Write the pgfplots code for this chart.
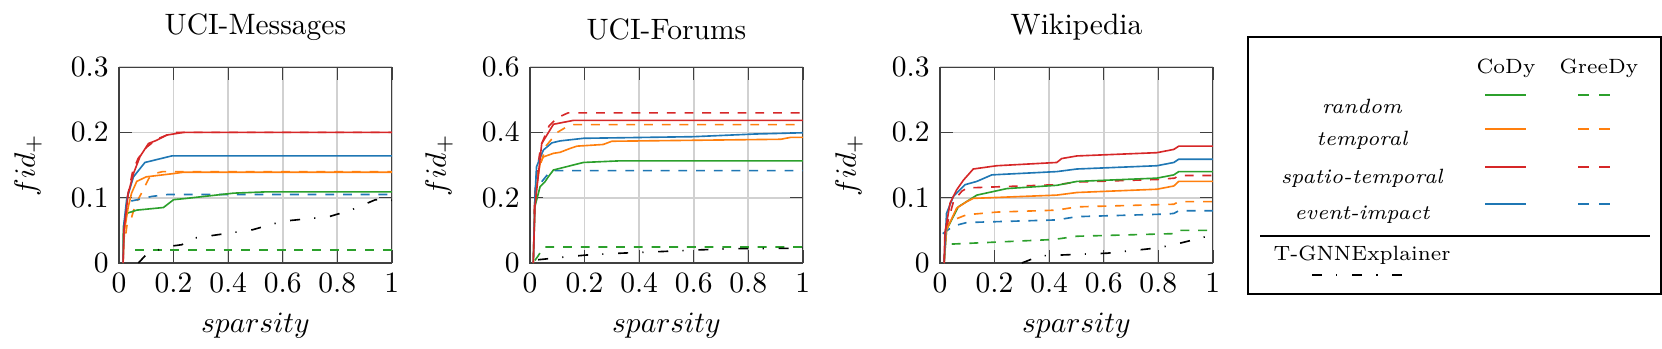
\documentclass[border=0pt]{standalone}
\usepackage{pgfplots}
\pgfplotsset{compat=1.18}
\definecolor{cgreen}{HTML}{2CA02C}
\definecolor{corange}{HTML}{FF7F0E}
\definecolor{cred}{HTML}{D62728}
\definecolor{cblue}{HTML}{1F77B4}
\tikzset{ddot/.style={dash pattern=on 3.4pt off 4.8pt on 0.4pt off 5pt}}
\pgfplotsset{myax/.style={scale only axis, width=92.5pt, height=66.4pt,
  xmin=0, xmax=1, ymin=0, grid=major, grid style={black!18, line width=0.6pt},
  axis line style={black!75}, tick style={black!75},
  xtick={0,0.2,0.4,0.6,0.8,1}, xlabel={$sparsity$}, ylabel={$fid_+$},
  ylabel shift=3pt, title style={yshift=-0.5pt},
  every axis plot/.append style={line width=0.55pt}}}
\begin{document}
\begin{tikzpicture}[x=0.339pt,y=0.339pt]
\useasboundingbox (0,0) rectangle (1662,349);
% ---------------- UCI-Messages
\begin{axis}[myax, at={(40.34pt,29.15pt)}, anchor=south west, ymax=0.3,
  ytick={0,0.1,0.2,0.3}, title={UCI-Messages}]
\addplot[cgreen, dashed] coordinates {(0.059,0.0203) (1,0.0203)};
\addplot[corange, dashed] coordinates {(0.025,0.045) (0.03,0.06) (0.045,0.068) (0.06,0.09) (0.08,0.105) (0.11,0.13) (0.14,0.138) (0.16,0.14) (1,0.14)};
\addplot[cblue, dashed] coordinates {(0.045,0.095) (0.08,0.098) (0.12,0.102) (0.18,0.105) (1,0.105)};
\addplot[cred, dashed] coordinates {(0.03,0.1) (0.05,0.14) (0.07,0.16) (0.1,0.177) (0.14,0.19) (0.2,0.2) (1,0.2)};
\addplot[black, ddot] coordinates {(0.071,0) (0.1,0.013) (0.175,0.025) (0.23,0.028) (0.273,0.038) (0.49,0.051) (0.6,0.064) (0.77,0.071) (0.85,0.081) (0.94,0.097) (1,0.096)};
\addplot[cgreen] coordinates {(0.015,0) (0.016,0.056) (0.028,0.076) (0.065,0.081) (0.163,0.085) (0.2,0.097) (0.248,0.099) (0.42,0.107) (0.54,0.109) (1,0.109)};
\addplot[corange] coordinates {(0.015,0) (0.02,0.05) (0.034,0.086) (0.046,0.107) (0.065,0.125) (0.1,0.132) (0.2,0.137) (0.236,0.139) (1,0.139)};
\addplot[cblue] coordinates {(0.015,0) (0.018,0.06) (0.028,0.097) (0.053,0.132) (0.095,0.154) (0.193,0.164) (1,0.164)};
\addplot[cred] coordinates {(0.015,0) (0.018,0.05) (0.034,0.107) (0.053,0.137) (0.077,0.163) (0.108,0.183) (0.138,0.188) (0.175,0.196) (0.236,0.2) (1,0.2)};
\end{axis}
% ---------------- UCI-Forums
\begin{axis}[myax, at={(179.67pt,29.15pt)}, anchor=south west, ymax=0.6,
  ytick={0,0.2,0.4,0.6}, title={UCI-Forums}]
\addplot[cgreen, dashed] coordinates {(0.018,0.008) (0.03,0.022) (0.05,0.049) (1,0.049)};
\addplot[corange, dashed] coordinates {(0.02,0.2) (0.03,0.28) (0.06,0.36) (0.1,0.4) (0.13,0.415) (0.16,0.424) (1,0.424)};
\addplot[cblue, dashed] coordinates {(0.043,0.249) (0.073,0.28) (0.09,0.283) (1,0.283)};
\addplot[cred, dashed] coordinates {(0.015,0.15) (0.02,0.25) (0.04,0.36) (0.07,0.42) (0.1,0.445) (0.14,0.46) (1,0.46)};
\addplot[black, ddot] coordinates {(0.03,0.01) (0.147,0.02) (0.208,0.0245) (0.33,0.03) (0.478,0.035) (0.613,0.04) (0.746,0.044) (0.956,0.045) (1,0.046)};
\addplot[cgreen] coordinates {(0.012,0) (0.018,0.173) (0.037,0.234) (0.055,0.249) (0.067,0.264) (0.086,0.285) (0.11,0.29) (0.196,0.308) (0.331,0.313) (1,0.313)};
\addplot[corange] coordinates {(0.012,0) (0.018,0.2) (0.037,0.305) (0.049,0.325) (0.086,0.336) (0.11,0.339) (0.147,0.351) (0.172,0.358) (0.268,0.363) (0.3,0.373) (0.919,0.379) (0.956,0.385) (1,0.385)};
\addplot[cblue] coordinates {(0.012,0) (0.018,0.2) (0.024,0.295) (0.049,0.346) (0.08,0.368) (0.11,0.374) (0.196,0.382) (0.6,0.387) (0.82,0.395) (1,0.399)};
\addplot[cred] coordinates {(0.012,0) (0.018,0.173) (0.043,0.366) (0.086,0.425) (0.16,0.437) (1,0.437)};
\end{axis}
% ---------------- Wikipedia
\begin{axis}[myax, at={(318.66pt,29.15pt)}, anchor=south west, ymax=0.3,
  ytick={0,0.1,0.2,0.3}, title={Wikipedia}]
\addplot[cgreen, dashed] coordinates {(0.043,0.029) (0.416,0.036) (0.502,0.041) (0.857,0.045) (0.875,0.05) (1,0.05)};
\addplot[corange, dashed] coordinates {(0.02,0.05) (0.037,0.064) (0.098,0.074) (0.208,0.078) (0.428,0.081) (0.502,0.086) (0.857,0.09) (0.875,0.094) (1,0.094)};
\addplot[cblue, dashed] coordinates {(0.01,0.045) (0.037,0.053) (0.061,0.058) (0.098,0.062) (0.428,0.066) (0.502,0.071) (0.832,0.075) (0.857,0.076) (0.875,0.08) (1,0.08)};
\addplot[cred, dashed] coordinates {(0.015,0) (0.02,0.05) (0.05,0.095) (0.08,0.11) (0.1,0.115) (0.43,0.12) (0.5,0.124) (0.8,0.128) (0.86,0.13) (0.875,0.134) (1,0.134)};
\addplot[black, ddot] coordinates {(0.3,0) (0.367,0.011) (0.49,0.013) (0.612,0.015) (0.795,0.023) (0.857,0.028) (1,0.043)};
\addplot[cgreen] coordinates {(0.015,0) (0.024,0.051) (0.067,0.086) (0.135,0.104) (0.245,0.114) (0.428,0.119) (0.502,0.125) (0.795,0.13) (0.857,0.135) (0.875,0.14) (1,0.14)};
\addplot[corange] coordinates {(0.015,0) (0.024,0.051) (0.061,0.084) (0.098,0.094) (0.122,0.099) (0.428,0.104) (0.502,0.108) (0.795,0.113) (0.857,0.118) (0.875,0.125) (1,0.125)};
\addplot[cblue] coordinates {(0.015,0) (0.024,0.076) (0.049,0.102) (0.092,0.12) (0.135,0.125) (0.19,0.135) (0.428,0.14) (0.502,0.144) (0.795,0.149) (0.857,0.154) (0.875,0.159) (1,0.159)};
\addplot[cred] coordinates {(0.015,0) (0.018,0.046) (0.037,0.092) (0.061,0.112) (0.086,0.127) (0.122,0.144) (0.208,0.149) (0.428,0.154) (0.446,0.16) (0.502,0.164) (0.795,0.169) (0.857,0.174) (0.875,0.179) (1,0.179)};
\end{axis}
% ---------------- Legend
\draw[black, line width=0.6pt] (1248,55) rectangle (1661,312);
\node[font=\scriptsize] at (1506,281) {CoDy};
\node[font=\scriptsize] at (1599,281) {GreeDy};
\node[font=\scriptsize\itshape] at (1362,243) {random};
\node[font=\scriptsize\itshape] at (1362,209) {temporal};
\node[font=\scriptsize\itshape] at (1362,171) {spatio-temporal};
\node[font=\scriptsize\itshape] at (1362,134) {event-impact};
\draw[cgreen, line width=0.55pt] (1485,254) -- (1526,254);
\draw[corange, line width=0.55pt] (1485,220) -- (1526,220);
\draw[cred, line width=0.55pt] (1485,182) -- (1526,182);
\draw[cblue, line width=0.55pt] (1485,145) -- (1526,145);
\draw[cgreen, line width=0.55pt, dash pattern=on 3.6pt off 3.6pt] (1578,254) -- (1611,254);
\draw[corange, line width=0.55pt, dash pattern=on 3.6pt off 3.6pt] (1578,220) -- (1611,220);
\draw[cred, line width=0.55pt, dash pattern=on 3.6pt off 3.6pt] (1578,182) -- (1611,182);
\draw[cblue, line width=0.55pt, dash pattern=on 3.6pt off 3.6pt] (1578,145) -- (1611,145);
\draw[black, line width=0.5pt] (1260,113) -- (1650,113);
\node[font=\scriptsize] at (1362,94) {T-GNNExplainer};
\draw[black, line width=0.55pt, ddot] (1312,74) -- (1403,74);
\end{tikzpicture}
\end{document}
